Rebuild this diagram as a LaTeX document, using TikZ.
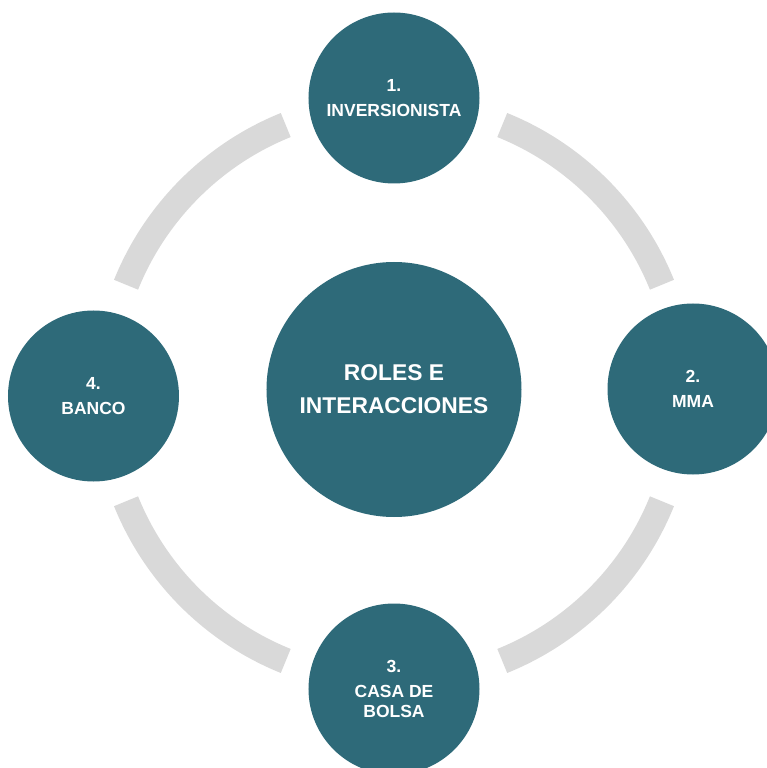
\documentclass[tikz,border=0pt]{standalone}
\usepackage{fontspec}
\setmainfont{Liberation Sans}
\definecolor{petrol}{HTML}{2E6A79}
\definecolor{ringgray}{HTML}{D9D9D9}
\tikzset{
  role/.style={circle, fill=petrol, text=white, inner sep=0pt, align=center,
    minimum size=171pt, font=\bfseries\fontsize{17.5}{20}\selectfont},
  hub/.style={role, minimum size=255pt, font=\bfseries\fontsize{22.8}{33}\selectfont},
  ring/.style={ringgray, line width=26pt}
}
\begin{document}
\begin{tikzpicture}[x=1pt,y=1pt]
    \def\rr{289} % radius of the ring
    \useasboundingbox (-394,-375) rectangle (373,393);
    % ring segments between the roles
    \foreach \a in {22,112,202,292}
        \draw[ring] (\a:\rr) arc (\a:\a+46:\rr);
    % centre and the four roles
    \node[hub] (centro) at (0,3.5) {ROLES E\\INTERACCIONES};
    \node[role] (inversionista) at (0,295) {1.\\[5pt]INVERSIONISTA};
    \node[role] (mma) at (299,4) {2.\\[5pt]MMA};
    \node[role] (bolsa) at (0,-296) {3.\\[5pt]CASA DE\\BOLSA};
    \node[role] (banco) at (-300.5,-3) {4.\\[5pt]BANCO};
\end{tikzpicture}
\end{document}
